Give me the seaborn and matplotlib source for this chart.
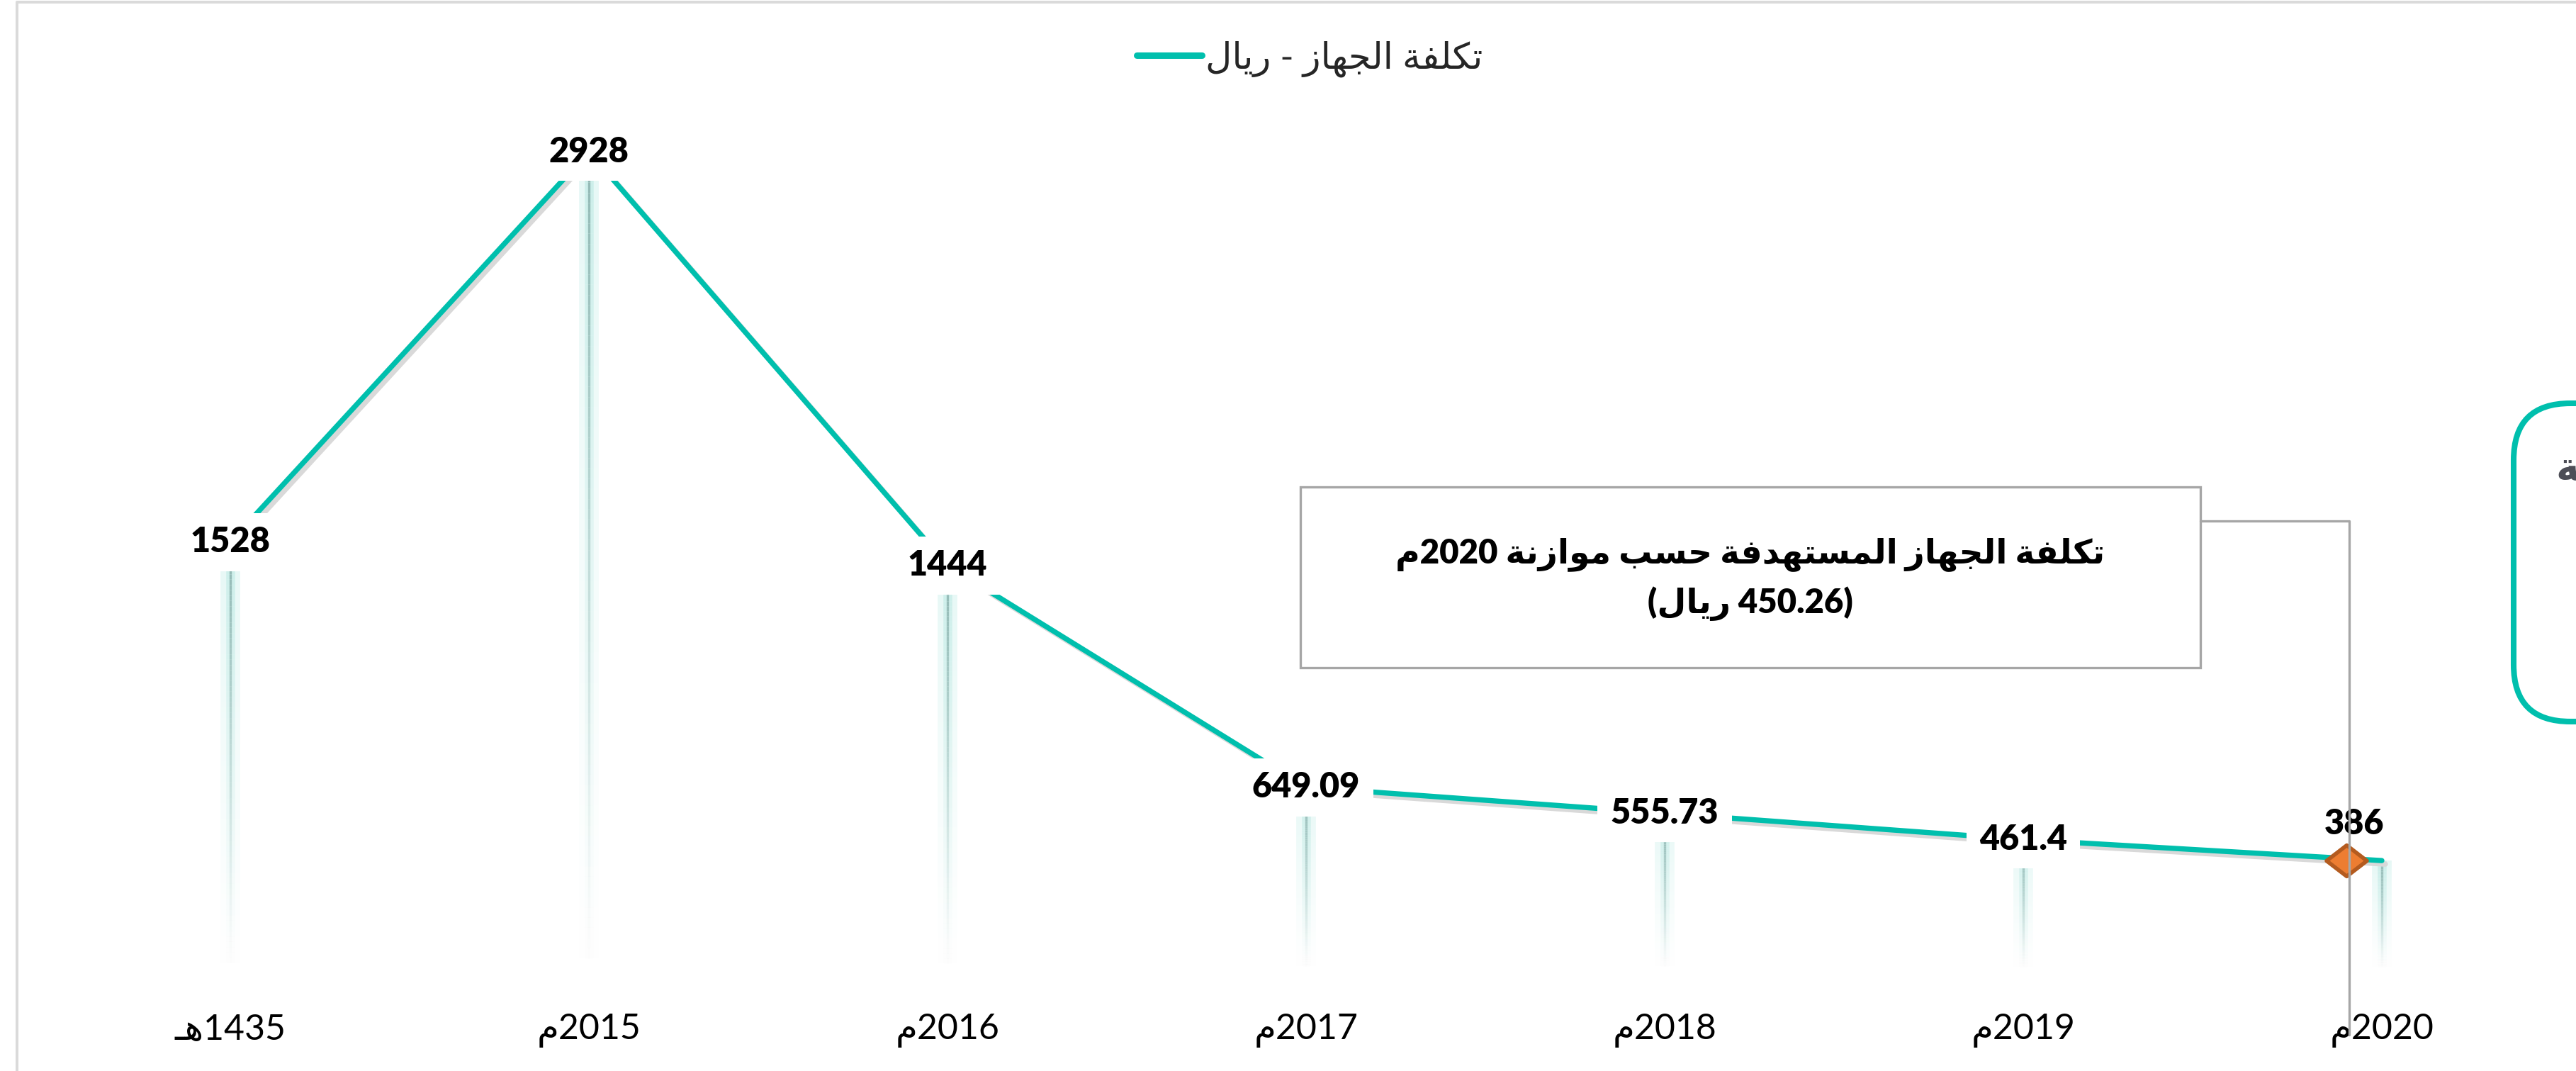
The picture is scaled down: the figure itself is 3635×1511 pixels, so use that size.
import re
import numpy as np
import pandas as pd
import matplotlib
matplotlib.use('Agg')
import matplotlib.pyplot as plt
import matplotlib.patheffects as pe
import matplotlib.colors as mcolors
import matplotlib.transforms as mtransforms
from matplotlib.lines import Line2D
from matplotlib.patches import Rectangle, FancyBboxPatch
from matplotlib.collections import LineCollection
from matplotlib.path import Path
import seaborn as sns

# data
years = ['1435هـ', '2015م', '2016م', '2017م', '2018م', '2019م', '2020م']
costs = [1528, 2928, 1444, 649.09, 555.73, 461.4, 386]
series_name = 'تكلفة الجهاز - ريال'
note_lines = ['تكلفة الجهاز المستهدفة حسب موازنة 2020م', '(450.26 ريال)']
side_word = 'تكلفة'

TEAL = '#00bfad'

# --- tiny arabic shaper + rtl ordering (matplotlib has no shaping) ---
FORMS = {
    'ا': ('\uFE8D', '\uFE8E', None, None),
    'ب': ('\uFE8F', '\uFE90', '\uFE91', '\uFE92'),
    'ة': ('\uFE93', '\uFE94', None, None),
    'ت': ('\uFE95', '\uFE96', '\uFE97', '\uFE98'),
    'ج': ('\uFE9D', '\uFE9E', '\uFE9F', '\uFEA0'),
    'ح': ('\uFEA1', '\uFEA2', '\uFEA3', '\uFEA4'),
    'د': ('\uFEA9', '\uFEAA', None, None),
    'ر': ('\uFEAD', '\uFEAE', None, None),
    'ز': ('\uFEAF', '\uFEB0', None, None),
    'س': ('\uFEB1', '\uFEB2', '\uFEB3', '\uFEB4'),
    'ف': ('\uFED1', '\uFED2', '\uFED3', '\uFED4'),
    'ك': ('\uFED9', '\uFEDA', '\uFEDB', '\uFEDC'),
    'ل': ('\uFEDD', '\uFEDE', '\uFEDF', '\uFEE0'),
    'م': ('\uFEE1', '\uFEE2', '\uFEE3', '\uFEE4'),
    'ن': ('\uFEE5', '\uFEE6', '\uFEE7', '\uFEE8'),
    'ه': ('\uFEE9', '\uFEEA', '\uFEEB', '\uFEEC'),
    'و': ('\uFEED', '\uFEEE', None, None),
    'ي': ('\uFEF1', '\uFEF2', '\uFEF3', '\uFEF4'),
    'ـ': ('\u0640', '\u0640', '\u0640', '\u0640'),
}
MIRROR = str.maketrans('()', ')(')


def shape(s):
    out = []
    for i, c in enumerate(s):
        if c not in FORMS:
            out.append(c)
            continue
        iso, fin, ini, med = FORMS[c]
        prev = s[i - 1] if i > 0 else ''
        nxt = s[i + 1] if i + 1 < len(s) else ''
        jp = prev in FORMS and FORMS[prev][2] is not None
        jn = ini is not None and nxt in FORMS
        if jp and jn:
            out.append(med)
        elif jp:
            out.append(fin)
        elif jn:
            out.append(ini)
        else:
            out.append(iso)
    return ''.join(out)


def ar(s):
    runs = re.findall(r'\d+(?:\.\d+)?|[^\d]+', shape(s))
    out = []
    for r in reversed(runs):
        if r[0].isdigit():
            out.append(r)
        else:
            out.append(r[::-1].translate(MIRROR))
    return ''.join(out)


sns.set_style('white')
plt.rcParams['font.family'] = ['Lato', 'DejaVu Sans']

W, H = 3635, 1511
fig = plt.figure(figsize=(W / 100, H / 100), dpi=100)
# pixel transform, origin at top-left
px = mtransforms.Affine2D().scale(1, -1).translate(0, H)

ax = fig.add_axes([72 / W, 1 - 1366 / H, (3614 - 72) / W, (1366 - 107) / H])

df = pd.DataFrame({'year': [ar(y) for y in years], 'cost': costs})

# fading drop lines from each point to the baseline
N = 80
fade = np.linspace(1, 0, N) ** 1.2
for i, v in enumerate(costs):
    ys = np.linspace(v, 0, N + 1)
    segs = [[(i, ys[k]), (i, ys[k + 1])] for k in range(N)]
    for col, lw, a in [('#d2f2ee', 20, 0.55), ('#b9e8e2', 9, 0.6), ('#92b8b4', 2.4, 1.0)]:
        rgb = mcolors.to_rgb(col)
        ax.add_collection(LineCollection(segs, colors=[(*rgb, a * f) for f in fade],
                                         linewidths=lw, capstyle='butt', zorder=1))

sns.lineplot(data=df, x='year', y='cost', sort=False, color=TEAL, linewidth=5.3,
             ax=ax, zorder=2)
line = ax.lines[-1]
line.set_solid_capstyle('round')
line.set_path_effects([pe.SimpleLineShadow(offset=(3.6, -3.6), shadow_color='#d9d9d9', alpha=1),
                       pe.Normal()])

# value labels
for i, v in enumerate(costs[:-1]):
    ax.text(i, v, f'{v:g}', ha='center', va='center', fontsize=35, fontweight='heavy',
            color='black', zorder=4,
            bbox=dict(boxstyle='square,pad=0.38', fc='white', ec='none'))
ax.annotate(f'{costs[-1]:g}', xy=(len(costs) - 1, costs[-1]), xytext=(-28, 37),
            textcoords='offset points', ha='center', va='center', fontsize=35,
            fontweight='heavy', color='black', zorder=4)

# diamond marker on the last segment
diamond = Path([(-1.3, 0), (0, 1), (1.3, 0), (0, -1), (-1.3, 0)],
               [Path.MOVETO, Path.LINETO, Path.LINETO, Path.LINETO, Path.CLOSEPOLY])
ax.plot([len(costs) - 1], [costs[-1]], marker=diamond, ms=41, mfc='#ed7d31', mec='#b45b1f',
        mew=4, ls='none', zorder=5,
        transform=ax.transData + mtransforms.ScaledTranslation(-0.5, 0, fig.dpi_scale_trans))

ax.set_xlim(-0.5, len(costs) - 0.5)
ax.set_ylim(0, 3200)
ax.set_xlabel('')
ax.set_ylabel('')
ax.set_yticks([])
ax.tick_params(axis='x', length=0, pad=46, labelsize=36, colors='black')
sns.despine(ax=ax, left=True, bottom=True)
ax.patch.set_alpha(0)

handle = Line2D([], [], color=TEAL, lw=6.5, solid_capstyle='round')
ax.legend([handle], [ar(series_name)], loc='center', bbox_to_anchor=(1848 / W, 1 - 83 / H),
          bbox_transform=fig.transFigure, frameon=False, fontsize=37, handlelength=1.8,
          handletextpad=0.1)

# callout box with connector
fig.add_artist(Rectangle((1835, 687), 3105 - 1835, 942 - 687, transform=px, fc='white',
                         ec='#a6a6a6', lw=2.4, zorder=3))
fig.text(2470, 782, ar(note_lines[0]), transform=px, ha='center', va='center', fontsize=34,
         fontweight='heavy', color='black', zorder=4)
fig.text(2470, 852, ar(note_lines[1]), transform=px, ha='center', va='center', fontsize=34,
         fontweight='heavy', color='black', zorder=4)
fig.add_artist(Line2D([3105, 3315, 3315], [735, 735, 1460], transform=px, color='#a6a6a6',
                      lw=2.4, zorder=6))

# cut-off side card on the right
fig.add_artist(FancyBboxPatch((3547, 569), 500, 1018 - 569, transform=px,
                              boxstyle='round,pad=0,rounding_size=80', fc='white', ec=TEAL,
                              lw=5.8, zorder=3))
fig.text(3606, 662, ar(side_word), transform=px, ha='left', va='center', fontsize=40,
         fontweight='bold', color='#4d4e57', zorder=4)

# page frame
fig.add_artist(Line2D([24, 24, W + 10], [H + 10, 3, 3], transform=px, color='#dadada',
                      lw=2.9, zorder=1))

fig.savefig('out.png', dpi=100, facecolor='white')
